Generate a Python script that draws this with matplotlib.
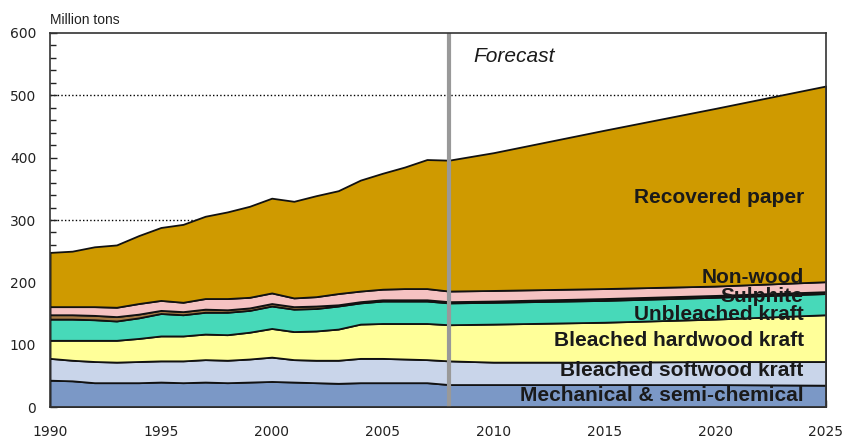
import matplotlib
matplotlib.use("Agg")
import matplotlib.pyplot as plt
from matplotlib.ticker import MultipleLocator

years = [1990, 1991, 1992, 1993, 1994, 1995, 1996, 1997, 1998, 1999, 2000,
         2001, 2002, 2003, 2004, 2005, 2006, 2007, 2008, 2010, 2015, 2020, 2025]

mechanical = [43, 42, 39, 39, 39, 40, 39, 40, 39, 40, 41, 40, 39, 38, 39, 39, 39, 39, 36,
              36, 36, 36, 35]
softwood = [35, 33, 34, 33, 34, 34, 35, 36, 36, 37, 39, 36, 36, 37, 39, 39, 38, 37, 38,
            36, 36, 37, 38]
hardwood = [29, 32, 34, 35, 37, 40, 40, 41, 41, 43, 46, 45, 47, 50, 55, 56, 57, 58, 58,
            61, 64, 68, 75]
unbleached = [34, 34, 33, 31, 33, 36, 34, 35, 36, 35, 36, 36, 36, 37, 34, 36, 36, 36, 35,
              35, 35, 35, 34]
sulphite = [7, 7, 7, 7, 6, 5, 5, 5, 4, 4, 4, 4, 4, 2, 2, 2, 2, 2, 2,
            2, 3, 3, 3]
nonwood = [13, 13, 14, 15, 17, 16, 15, 17, 18, 17, 17, 14, 15, 18, 17, 17, 18, 18, 17,
           17, 16, 15, 16]
recovered = [87, 89, 96, 100, 109, 117, 125, 132, 139, 146, 152, 155, 162, 165, 178, 186,
             195, 207, 210, 221, 254, 285, 314]

series_labels = ["Mechanical & semi-chemical", "Bleached softwood kraft",
                 "Bleached hardwood kraft", "Unbleached kraft", "Sulphite",
                 "Non-wood", "Recovered paper"]
label_y = [18, 58, 106, 149, 177, 207, 336]
colors = ["#7b98c6", "#c9d5ea", "#ffff99", "#47d9b9", "#a57a45", "#f5c2c2", "#cf9a00"]

forecast_start = 2008
y_ticks = [0, 100, 200, 300, 400, 500, 600]
x_ticks = [1990, 1995, 2000, 2005, 2010, 2015, 2020, 2025]
grid_levels = [300, 500]

fig = plt.figure(figsize=(8.48, 4.4), dpi=100)
ax = fig.add_axes([0.059, 0.075, 0.915, 0.85])

for g in grid_levels:
    ax.axhline(g, color="black", linestyle=(0, (1, 1.6)), linewidth=1.0, zorder=0)

ax.stackplot(years, mechanical, softwood, hardwood, unbleached, sulphite, nonwood,
             recovered, colors=colors, edgecolor="#111111", linewidth=1.3, zorder=2)

ax.axvline(forecast_start, color="#999999", linewidth=3, zorder=3)

ax.set_xlim(1990, 2025)
ax.set_ylim(0, 600)
ax.set_xticks(x_ticks)
ax.set_yticks(y_ticks)
ax.xaxis.set_minor_locator(MultipleLocator(1))
ax.yaxis.set_minor_locator(MultipleLocator(20))
ax.tick_params(axis="both", which="both", direction="in", colors="#222222",
               labelsize=10, top=False, right=False)
ax.tick_params(axis="both", which="major", length=5, width=1)
ax.tick_params(axis="both", which="minor", length=4, width=1)
ax.tick_params(axis="x", pad=13)
ax.tick_params(axis="y", pad=10)
for lab in ax.get_xticklabels() + ax.get_yticklabels():
    lab.set_family("DejaVu Sans")
for sp in ax.spines.values():
    sp.set_color("#333333")
    sp.set_linewidth(1.2)
    sp.set_zorder(5)

fig.text(0.059, 0.955, "Million tons", fontsize=10, family="Liberation Sans",
         color="#222222", ha="left", va="center")

ax.text(2009.1, 563, "Forecast", fontsize=15, style="italic", family="Liberation Sans",
        color="#1a1a1a", ha="left", va="center", zorder=6)

for lab, yv in zip(series_labels, label_y):
    ax.text(2024.0, yv, lab, fontsize=15, fontweight="bold", family="Liberation Sans",
            color="#1a1a1a", ha="right", va="center", zorder=6)

fig.savefig("out.png", dpi=100)
